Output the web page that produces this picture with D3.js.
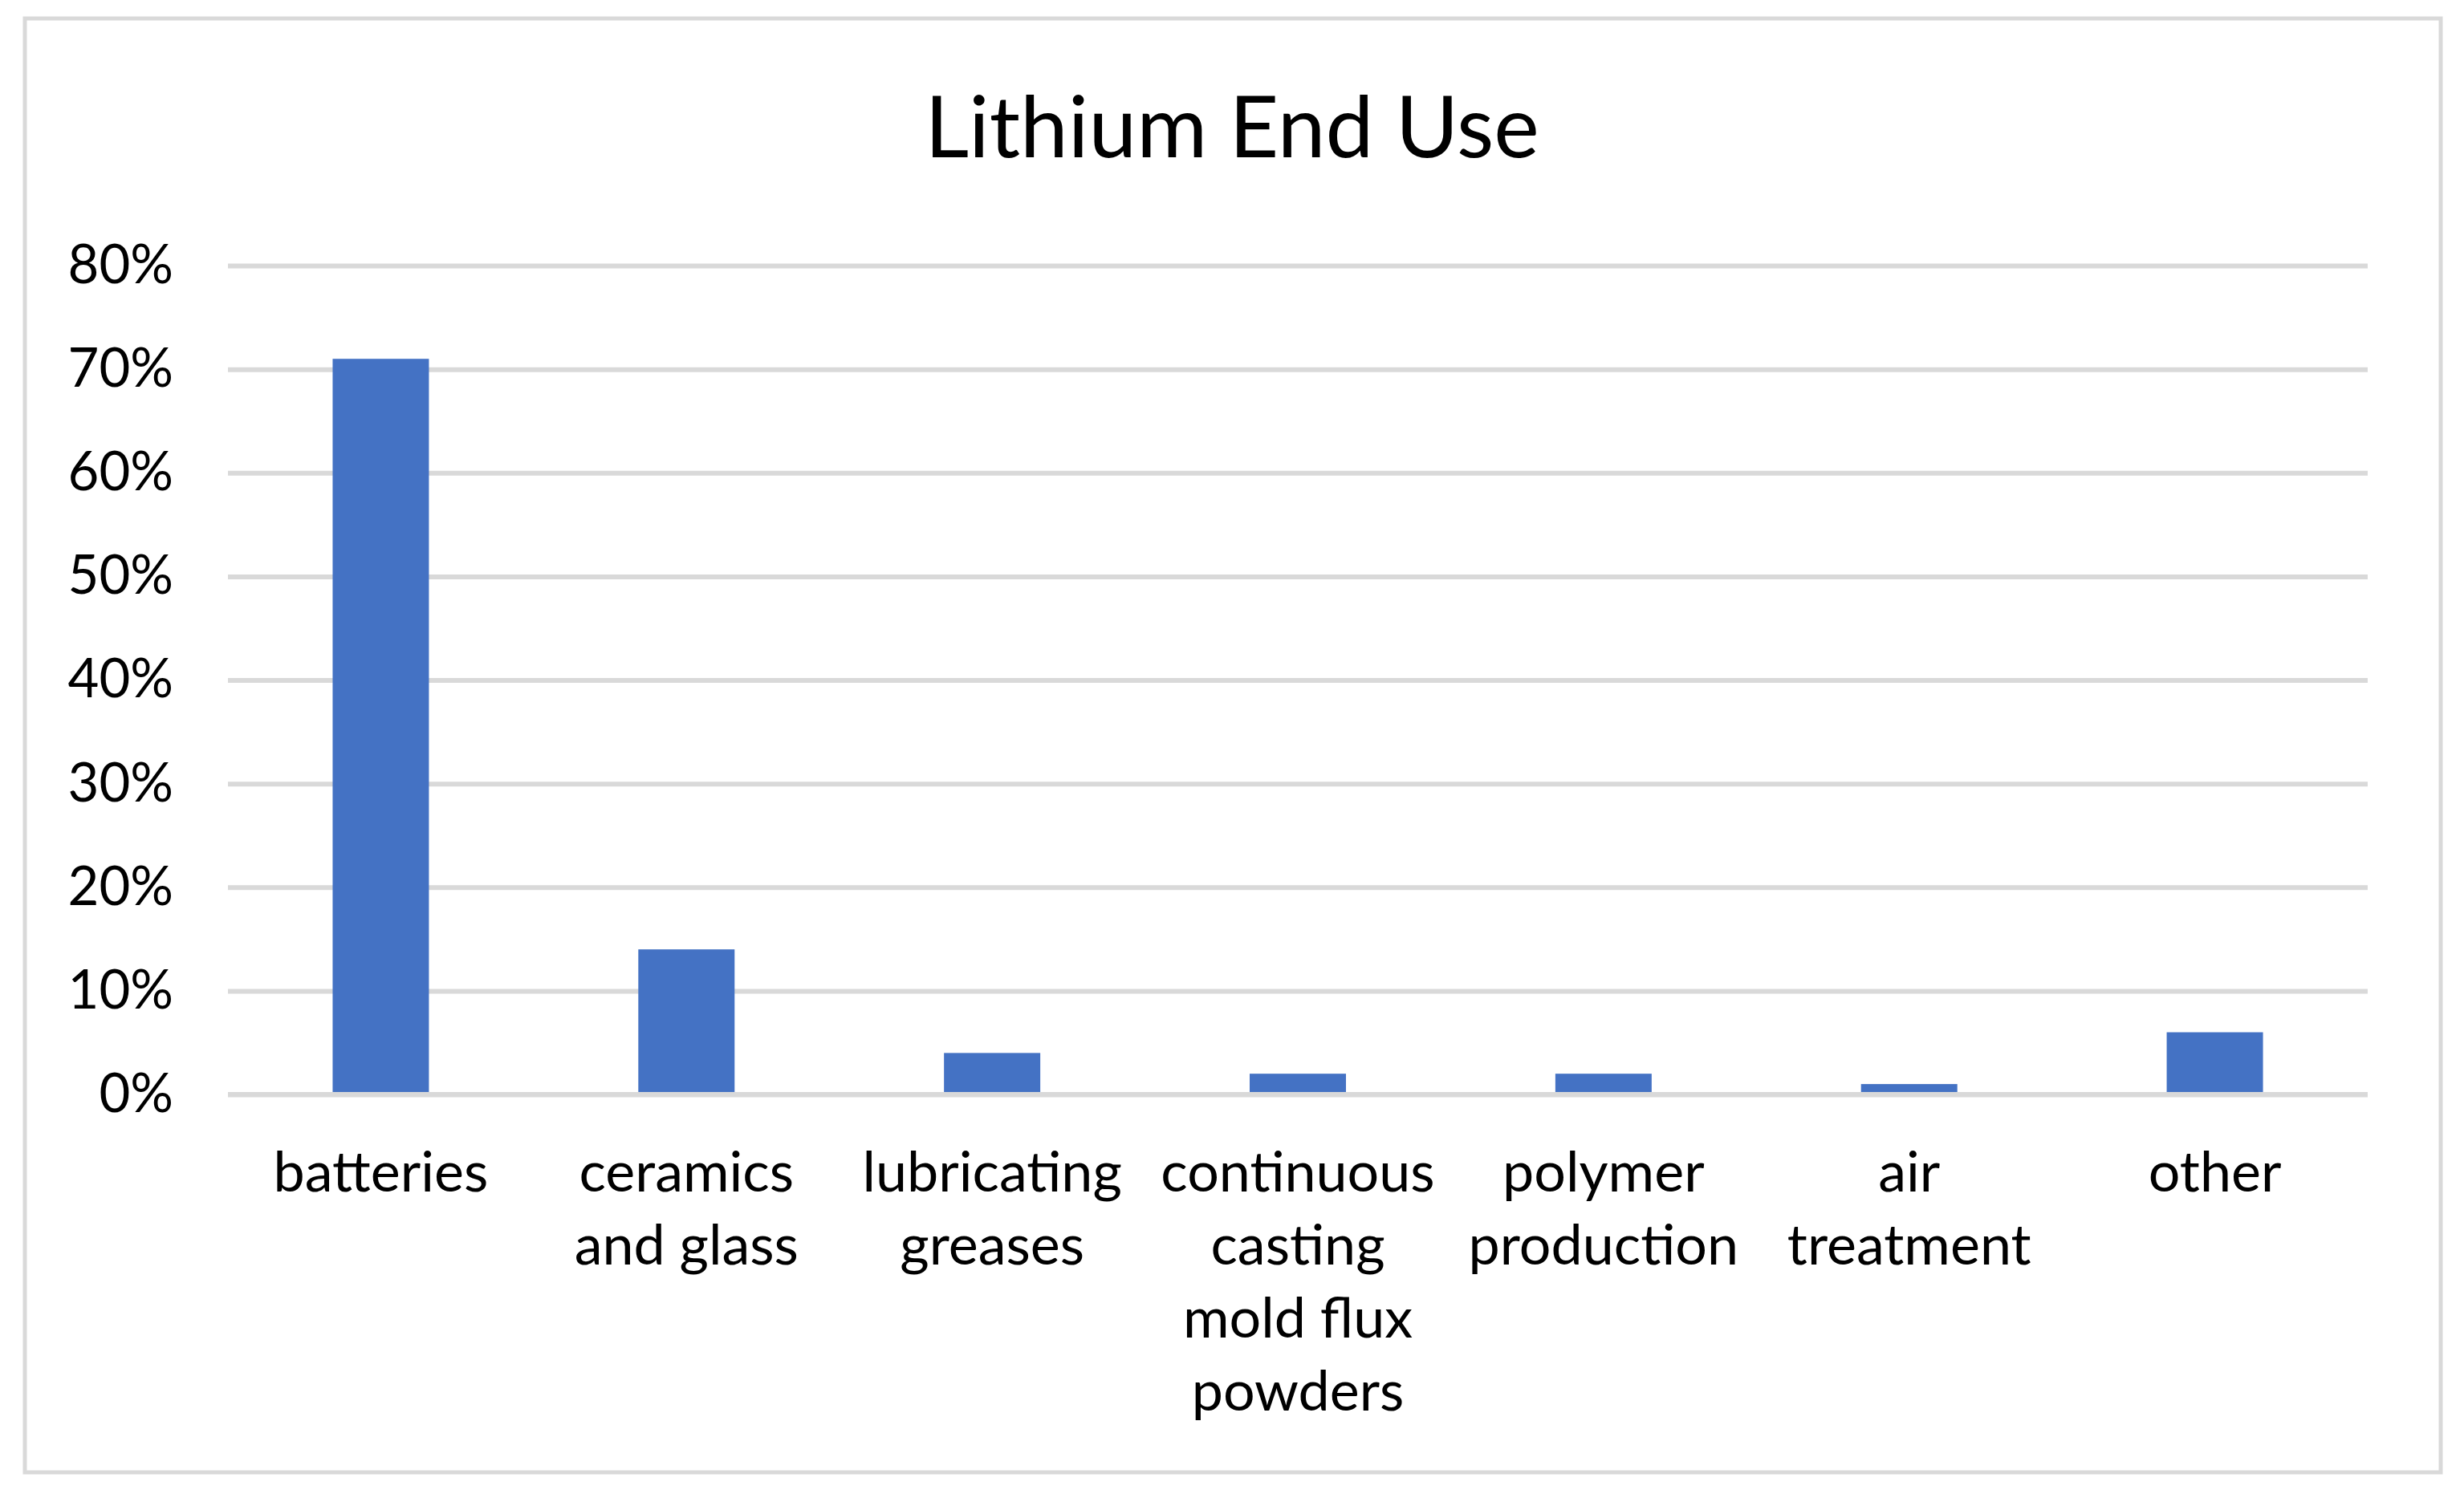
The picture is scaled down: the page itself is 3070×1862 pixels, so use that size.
<!DOCTYPE html>
<html>
<head>
<meta charset="utf-8">
<script src="https://cdn.jsdelivr.net/npm/d3@7"></script>
<style>
  html, body { margin: 0; padding: 0; background: #ffffff; }
  svg { display: block; }
  text { font-family: "Lato", "Open Sans", sans-serif; fill: #000000; }
</style>
</head>
<body>
<svg id="chart" width="3070" height="1862"></svg>
<script>
const categories = ["batteries", "ceramics and glass", "lubricating greases",
  "continuous casting mold flux powders", "polymer production", "air treatment", "other"];
const categoryLines = [
  ["batteries"],
  ["ceramics", "and glass"],
  ["lubricating", "greases"],
  ["continuous", "casting", "mold flux", "powders"],
  ["polymer", "production"],
  ["air", "treatment"],
  ["other"]
];
const values = [0.71, 0.14, 0.04, 0.02, 0.02, 0.01, 0.06];
const yTicks = [0, 0.1, 0.2, 0.3, 0.4, 0.5, 0.6, 0.7, 0.8];
const title = "Lithium End Use";

const svg = d3.select("#chart");
const plot = { left: 284, right: 2950, top: 331, bottom: 1364 };

// outer border
svg.append("rect")
  .attr("x", 31).attr("y", 23)
  .attr("width", 3041 - 31).attr("height", 1835 - 23)
  .attr("fill", "#ffffff").attr("stroke", "#d9d9d9").attr("stroke-width", 5);

const x = d3.scaleBand().domain(categories).range([plot.left, plot.right])
  .paddingInner(0.685).paddingOuter(0.3425);
const y = d3.scaleLinear().domain([0, 0.8]).range([plot.bottom, plot.top]);

// gridlines + y labels
const yAxis = d3.axisLeft(y).tickValues(yTicks).tickFormat(d3.format(".0%"))
  .tickSize(-(plot.right - plot.left)).tickPadding(68);
const gy = svg.append("g").attr("transform", `translate(${plot.left},0)`).call(yAxis);
gy.select(".domain").remove();
gy.selectAll(".tick line").attr("stroke", "#d9d9d9").attr("stroke-width", 6);
gy.selectAll(".tick text").attr("font-size", 67).attr("fill", "#000")
  .style("font-family", "Lato, 'Open Sans', sans-serif");

// bars
svg.append("g").selectAll("rect").data(values).join("rect")
  .attr("x", (d, i) => x(categories[i]))
  .attr("width", x.bandwidth())
  .attr("y", d => y(d))
  .attr("height", d => y(0) - 3 - y(d))
  .attr("fill", "#4472c4");

// zero line on top
svg.append("line")
  .attr("x1", plot.left).attr("x2", plot.right)
  .attr("y1", y(0)).attr("y2", y(0))
  .attr("stroke", "#d9d9d9").attr("stroke-width", 6);

// x labels
const xl = svg.append("g").selectAll("text").data(categories).join("text")
  .attr("text-anchor", "middle")
  .attr("font-size", 70)
  .attr("x", d => x(d) + x.bandwidth() / 2)
  .attr("y", 1458)
  .attr("dominant-baseline", "central");
xl.each(function(d, i) {
  const t = d3.select(this);
  categoryLines[i].forEach((line, j) => {
    t.append("tspan").attr("x", x(d) + x.bandwidth() / 2)
      .attr("dy", j === 0 ? 0 : 91).text(line);
  });
});

// title
svg.append("text").attr("x", 1535).attr("y", 196)
  .attr("text-anchor", "middle").attr("font-size", 107).text(title);
</script>
</body>
</html>
